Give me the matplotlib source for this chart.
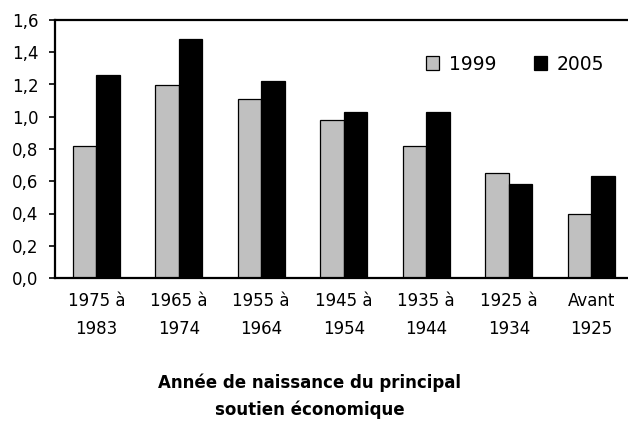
import matplotlib
matplotlib.use("Agg")
import matplotlib.pyplot as plt
from matplotlib.ticker import FuncFormatter
import numpy as np

categories = ["1975 à\n1983", "1965 à\n1974", "1955 à\n1964", "1945 à\n1954",
              "1935 à\n1944", "1925 à\n1934", "Avant\n1925"]
values_1999 = [0.82, 1.20, 1.11, 0.98, 0.82, 0.65, 0.40]
values_2005 = [1.26, 1.48, 1.22, 1.03, 1.03, 0.58, 0.63]
series_labels = ["1999", "2005"]
xlabel_text = "Année de naissance du principal\nsoutien économique"

plt.rcParams['font.family'] = ['DejaVu Sans']

fig = plt.figure(figsize=(6.28, 4.26), dpi=100)
ax = fig.add_axes([55/628, 1-278/426, 577.5/628, 258/426])

x = np.arange(len(categories))
w = 0.285
ax.bar(x - w/2, values_1999, w, color="#C0C0C0", edgecolor="black", linewidth=0.9,
       label=series_labels[0])
ax.bar(x + w/2, values_2005, w, color="black", edgecolor="black", linewidth=0.9,
       label=series_labels[1])

ax.set_xlim(-0.5, len(categories) - 0.5)
ax.set_ylim(0, 1.6)
ax.set_yticks(np.arange(0, 1.61, 0.2))
ax.yaxis.set_major_formatter(FuncFormatter(lambda v, p: f"{v:.1f}".replace(".", ",")))
ax.set_xticks(x)
ax.set_xticklabels(categories, linespacing=1.75)
ax.tick_params(axis="x", length=0, pad=10, labelsize=12)
ax.tick_params(axis="y", length=4, width=1.2, pad=8, labelsize=12, direction="out")

for s in ["left", "top", "bottom"]:
    ax.spines[s].set_linewidth(1.6)
ax.spines["right"].set_visible(False)

leg = ax.legend(loc="center", bbox_to_anchor=(515/628, 1-64/426), bbox_transform=fig.transFigure,
                ncol=2, frameon=False, fontsize=13.5, handlelength=0.7, handleheight=0.7,
                handletextpad=0.5, columnspacing=2.0, borderpad=0)

fig.text(310/628, 1-396/426, xlabel_text, ha="center", va="center", fontsize=12,
         fontweight="bold", linespacing=1.6)

fig.savefig("out.png", dpi=100)
